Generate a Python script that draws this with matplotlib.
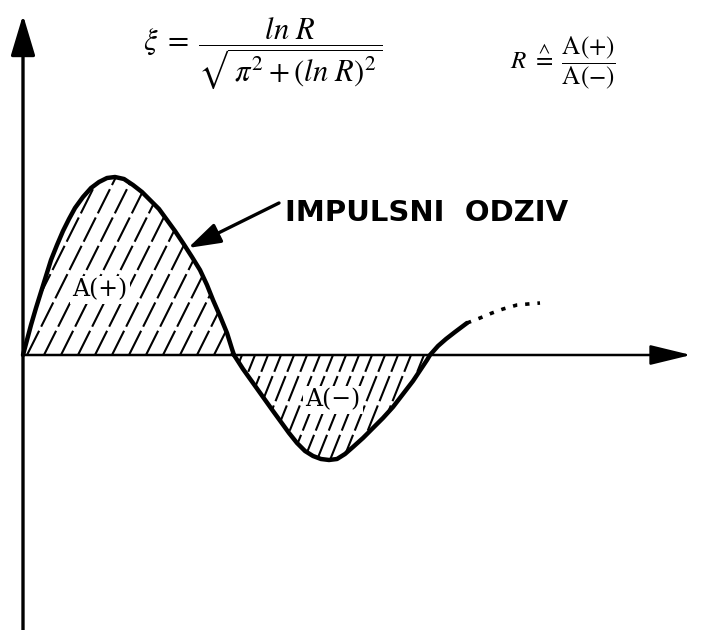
import numpy as np
import matplotlib
matplotlib.use("Agg")
import matplotlib.pyplot as plt
from matplotlib.patches import Polygon
from matplotlib.collections import LineCollection

plt.rcParams['mathtext.fontset'] = 'stix'

t_pos = [0, 4, 8, 13, 18, 23, 28, 34, 40, 46, 52, 60, 68, 76, 84, 92, 101, 110, 119, 127, 136, 144, 152, 160, 169, 177, 184, 190, 197, 204, 209, 211]
h_pos = [0, 15, 30, 47, 63, 79, 95, 110, 124, 136, 147, 158, 167, 173, 177, 178, 176, 170, 163, 155, 146, 135, 124, 112, 98, 85, 70, 55, 39, 22, 6, 0]
t_neg = [211, 220, 230, 240, 250, 258, 266, 274, 282, 290, 298, 306, 314, 322, 330, 340, 350, 360, 370, 380, 390, 398, 404, 407]
h_neg = [0, -14, -28, -42, -56, -67, -78, -88, -96, -101, -104, -105, -104, -99, -92, -83, -73, -63, -52, -39, -26, -14, -5, 0]
t_tail = [407, 415, 423, 432, 444]
h_tail = [0, 9, 16, 23, 32]
t_dots = [444, 457, 469, 480, 494, 505, 517]
h_dots = [32, 37, 42, 46, 50, 51, 52]

fig = plt.figure(figsize=(7.07, 6.30), dpi=100)
ax = fig.add_axes([0, 0, 1, 1])
ax.set_xlim(-23, 684)
ax.set_ylim(-275, 355)
ax.axis('off')

# axes with arrow heads
ax.annotate('', xy=(0, 340), xytext=(0, -275),
            arrowprops=dict(arrowstyle='-|>,head_length=1.0,head_width=0.3', lw=2.4,
                            color='k', mutation_scale=25, shrinkA=0, shrinkB=0))
ax.annotate('', xy=(668, 0), xytext=(0, 0),
            arrowprops=dict(arrowstyle='-|>,head_length=1.15,head_width=0.28', lw=1.8,
                            color='k', mutation_scale=22, shrinkA=0, shrinkB=0))


def hatch(tt, hh, spacing, slope):
    poly = Polygon(np.column_stack([tt, hh]), closed=True, facecolor='none', edgecolor='none')
    ax.add_patch(poly)
    lo, hi = min(hh), max(hh)
    segs = []
    for c in np.arange(min(tt) - 200, max(tt) + 200, spacing):
        segs.append([(c + lo / slope, lo), (c + hi / slope, hi)])
    lc = LineCollection(segs, colors='k', linewidths=1.5, linestyles=(0, (13, 2.2)))
    ax.add_collection(lc)
    lc.set_clip_path(poly)


hatch(t_pos, h_pos, 17, 2.0)
hatch(t_neg, h_neg, 13, 2.5)

ax.plot(t_pos, h_pos, color='k', lw=3.2, solid_joinstyle='round', solid_capstyle='round')
ax.plot(t_neg + t_tail[1:], h_neg + h_tail[1:], color='k', lw=3.2,
        solid_joinstyle='round', solid_capstyle='round')
ax.plot(t_dots, h_dots, color='k', lw=2.6, linestyle=(0, (1.2, 2.2)), dash_capstyle='butt')

ax.text(77, 65, 'A(+)', fontsize=17, ha='center', va='center', family='DejaVu Serif',
        bbox=dict(facecolor='white', edgecolor='none', pad=1.5))
ax.text(310, -45, 'A(−)', fontsize=17, ha='center', va='center', family='DejaVu Serif',
        bbox=dict(facecolor='white', edgecolor='none', pad=1.5))

ax.text(262, 142, 'IMPULSNI  ODZIV', fontsize=21, fontweight='bold', ha='left', va='center',
        family='DejaVu Sans')
ax.annotate('', xy=(t_pos[23] + 5, h_pos[23] - 5), xytext=(256, 152),
            arrowprops=dict(arrowstyle='-|>,head_length=1.1,head_width=0.35', lw=2.4,
                            color='k', mutation_scale=18, shrinkA=0, shrinkB=0))

ax.text(240, 302, r'$\xi\;=\; \dfrac{\mathit{ln}\ R}{\sqrt{\,\pi^2 + (\mathit{ln}\ R)^2}}$',
        fontsize=22, ha='center', va='center')
ax.text(540, 292, r'$R\ \overset{\wedge}{=}\ \dfrac{\mathrm{A(+)}}{\mathrm{A(-)}}$',
        fontsize=18, ha='center', va='center')

fig.savefig('out.png', dpi=100, facecolor='white')
